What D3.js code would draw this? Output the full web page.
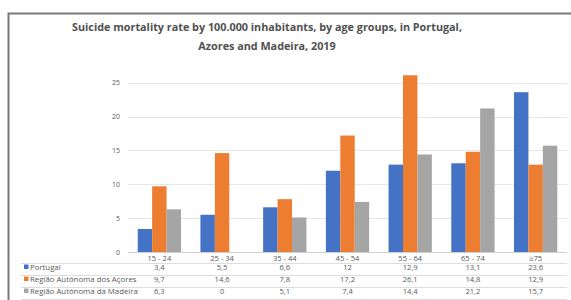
<!DOCTYPE html>
<html><head><meta charset="utf-8">
<script src="https://cdn.jsdelivr.net/npm/d3@7"></script>
<style>body{margin:0;background:#fff}svg{display:block}</style>
</head><body>
<svg id="c" width="571" height="300"></svg>
<script>
const categories = ["15 - 24","25 - 34","35 - 44","45 - 54","55 - 64","65 - 74","≥75"];
const seriesNames = ["Portugal","Região Autónoma dos Açores","Região Autónoma da Madeira"];
const portugal = [3.4,5.5,6.6,12,12.9,13.1,23.6];
const acores = [9.7,14.6,7.8,17.2,26.1,14.8,12.9];
const madeira = [6.3,0,5.1,7.4,14.4,21.2,15.7];
const valueLabels = [
  ["3,4","5,5","6,6","12","12,9","13,1","23,6"],
  ["9,7","14,6","7,8","17,2","26,1","14,8","12,9"],
  ["6,3","0","5,1","7,4","14,4","21,2","15,7"]
];
const yTicks = [0,5,10,15,20,25];
const colors = ["#4472C4","#ED7D31","#A5A5A5"];
const series = [portugal, acores, madeira];

const svg = d3.select("#c");
const font = "'Open Sans', 'Liberation Sans', sans-serif";
// frame
svg.append("path").attr("d","M8.5,300 V13.5 H571").attr("fill","none").attr("stroke","#7a7a7a").attr("stroke-width",2);

// title
const title = svg.append("text").attr("x",267).attr("text-anchor","middle")
  .attr("font-family",font).attr("font-weight","bold").attr("font-size",10.8).attr("fill","#505050");
title.append("tspan").attr("x",267).attr("y",31).text("Suicide mortality rate by 100.000 inhabitants, by age groups, in Portugal,");
title.append("tspan").attr("x",267).attr("y",49.5).text("Azores and Madeira, 2019");

const x0 = d3.scaleBand().domain(categories).range([128,567]).paddingInner(0.31).paddingOuter(0.155);
const x1 = d3.scaleBand().domain(d3.range(3)).range([0,x0.bandwidth()]);
const y = d3.scaleLinear().domain([0,25]).range([252,82.7]);

// gridlines
svg.append("g").selectAll("line").data(yTicks).join("line")
  .attr("x1",128).attr("x2",567).attr("y1",d=>Math.round(y(d))+0.5).attr("y2",d=>Math.round(y(d))+0.5)
  .attr("stroke",d=>d===0?"#d0d0d0":"#e6e6e6").attr("stroke-width",1);
// y axis labels
svg.append("g").selectAll("text").data(yTicks).join("text")
  .attr("x",120).attr("y",d=>y(d)+2.5).attr("text-anchor","end")
  .attr("font-family",font).attr("font-size",7).attr("fill","#595959").text(d=>d);

// bars
const g = svg.append("g");
categories.forEach((c,i)=>{
  series.forEach((s,k)=>{
    g.append("rect").attr("x",x0(c)+x1(k)).attr("width",x1.bandwidth())
      .attr("y",y(s[i])).attr("height",y(0)-y(s[i])).attr("fill",colors[k]);
  });
});

// data table
const rowY = [269.5,281.5,293.5];
const lineY = [263,275,287,299];
svg.append("g").selectAll("line").data(lineY).join("line")
  .attr("x1",21).attr("x2",567).attr("y1",d=>d+0.5).attr("y2",d=>d+0.5)
  .attr("stroke","#dedede");
svg.append("g").selectAll("text").data(categories).join("text")
  .attr("x",c=>x0(c)+x0.bandwidth()/2).attr("y",260.5).attr("text-anchor","middle")
  .attr("font-family",font).attr("font-size",7.6).attr("fill","#595959").text(c=>c);
seriesNames.forEach((n,k)=>{
  svg.append("rect").attr("x",24).attr("y",rowY[k]-5).attr("width",4.5).attr("height",4.5).attr("fill",colors[k]);
  svg.append("text").attr("x",30).attr("y",rowY[k]).attr("font-family",font).attr("font-size",7.8).attr("fill","#595959").text(n);
  svg.append("g").selectAll("text").data(valueLabels[k]).join("text")
    .attr("x",(v,i)=>x0(categories[i])+x0.bandwidth()/2).attr("y",rowY[k]).attr("text-anchor","middle")
    .attr("font-family",font).attr("font-size",7.6).attr("fill","#595959").text(v=>v);
});
</script>
</body></html>
